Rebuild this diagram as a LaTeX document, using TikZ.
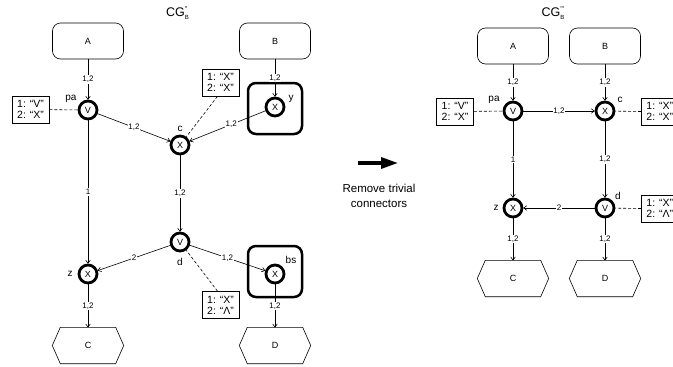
\documentclass[tikz,border=0pt]{standalone}
\usepackage{fontspec}
\setmainfont{Liberation Sans}
\newfontfamily\tickfont{Liberation Sans}
\usetikzlibrary{arrows.meta,calc}

\tikzset{
  box/.style={draw, line width=0.6pt, rounded corners=8pt, minimum width=71pt,
    minimum height=36pt, inner sep=0pt, font=\fontsize{9}{9}\selectfont},
  hexbox/.style={minimum width=71pt, minimum height=36pt, inner sep=0pt,
    font=\fontsize{9}{9}\selectfont},
  op/.style={circle, draw, line width=2.8pt, minimum size=18pt, inner sep=0pt,
    font=\fontsize{9}{9}\selectfont},
  frame/.style={draw, line width=2.5pt, rounded corners=8pt, minimum width=54pt,
    minimum height=51pt},
  note/.style={draw, line width=0.6pt, align=left, fill=white,
    font=\fontsize{10.5}{11}\selectfont, minimum width=37pt, minimum height=27pt,
    inner xsep=4pt, inner ysep=2pt},
  conn/.style={line width=0.6pt, -{To[length=3.5pt,width=5pt]}},
  lab/.style={fill=white, inner sep=0.8pt, font=\fontsize{8}{8}\selectfont},
  dline/.style={line width=0.6pt, dash pattern=on 3pt off 2pt},
  tag/.style={inner sep=0pt, font=\fontsize{10}{10}\selectfont},
  title/.style={inner sep=0pt, font=\fontsize{12.5}{12.5}\selectfont},
}

% graph name: CG with primes above and B below
\newcommand{\cgname}[1]{CG\rlap{\raisebox{5.5pt}{\fontsize{7}{7}\selectfont\tickfont #1}}\raisebox{-3pt}{\fontsize{6}{6}\selectfont B}}

% hexagonal terminal drawn round an invisible node
\newcommand{\hexframe}[1]{%
  \draw[line width=0.6pt] (#1.west) -- ([xshift=8pt]#1.north west)
    -- ([xshift=-8pt]#1.north east) -- (#1.east)
    -- ([xshift=-8pt]#1.south east) -- ([xshift=8pt]#1.south west) -- cycle;}

\begin{document}
\begin{tikzpicture}[x=1pt, y=-1pt]
\useasboundingbox (0,0) rectangle (673,367);

% ---------------- first graph ----------------
\node[title] (t1) at (177.5,13) {\cgname{''}};

\node[box] (A1) at (88,41) {A};
\node[box] (B1) at (275,41) {B};

\node[frame] (yf) at (275,108.5) {};
\node[frame] (bsf) at (275,271.5) {};

\node[op] (pa1) at (88,110) {V};
\node[op] (c1) at (180,145) {X};
\node[op] (y1) at (275,107) {X};
\node[op] (d1) at (180,242) {V};
\node[op] (z1) at (88,274) {X};
\node[op] (bs1) at (275,274) {X};

\node[hexbox] (C1) at (88,345.5) {C};
\node[hexbox] (D1) at (275,345.5) {D};
\hexframe{C1}
\hexframe{D1}

\node[tag] (lpa1) at (71,99) {pa};
\node[tag] (lc1) at (180,129) {c};
\node[tag] (ly1) at (291,99) {y};
\node[tag] (ld1) at (180,262) {d};
\node[tag] (lz1) at (70,274) {z};
\node[tag] (lbs1) at (291,260) {bs};

\node[note] (npa1) at (30.5,109.5) {1: “V”\\2: “X”};
\node[note] (nc1) at (220.5,82.5) {1: “X”\\2: “X”};
\node[note] (nd1) at (220.5,305) {1: “X”\\2: “Λ”};

\draw[dline] (npa1) -- (pa1);
\draw[dline] ([xshift=-3pt]nc1.south) -- (c1);
\draw[dline] ([xshift=-3pt]nd1.north) -- (d1);

\draw[conn] (A1) -- node[lab] {1,2} (pa1);
\draw[conn] (B1) -- node[lab] {1,2} (y1);
\draw[conn] (pa1) -- node[lab] {1,2} (c1);
\draw[conn] (y1) -- node[lab, pos=0.45] {1,2} (c1);
\draw[conn] (pa1) -- node[lab] {1} (z1);
\draw[conn] (c1) -- node[lab] {1,2} (d1);
\draw[conn] (d1) -- node[lab] {2} (z1);
\draw[conn] (d1) -- node[lab] {1,2} (bs1);
\draw[conn] (z1) -- node[lab] {1,2} (C1);
\draw[conn] (bs1) -- node[lab] {1,2} (D1);

% ---------------- transformation step ----------------
\coordinate (arS) at (358,163);
\coordinate (arE) at (398,163);
\draw[line width=3.2pt, -{Triangle[length=17pt,width=11pt]}] (arS) -- (arE);
\node[align=center, inner sep=0pt, font=\fontsize{11.5}{15}\selectfont] (step1) at (379,195.5)
  {Remove trivial\\connectors};

% ---------------- second graph ----------------
\node[title] (t2) at (553,13) {\cgname{'''}};

\node[box] (A2) at (513,46) {A};
\node[box] (B2) at (605,46) {B};

\node[op] (pa2) at (513,111) {V};
\node[op] (c2) at (605,111) {X};
\node[op] (z2) at (513,208) {X};
\node[op] (d2) at (605,208) {V};

\node[hexbox] (C2) at (513,278.5) {C};
\node[hexbox] (D2) at (605,278.5) {D};
\hexframe{C2}
\hexframe{D2}

\node[tag] (lpa2) at (494,100) {pa};
\node[tag] (lc2) at (620,100) {c};
\node[tag] (lz2) at (496,208) {z};
\node[tag] (ld2) at (618,196) {d};

\node[note] (npa2) at (455,111.5) {1: “V”\\2: “X”};
\node[note, anchor=west] (nc2) at (641,111.5) {1: “X”\\2: “X”};
\node[note, anchor=west] (nd2) at (641,208.5) {1: “X”\\2: “Λ”};

\draw[dline] (npa2) -- (pa2);
\draw[dline] (nc2.west) -- (c2);
\draw[dline] (nd2.west) -- (d2);

\draw[conn] (A2) -- node[lab] {1,2} (pa2);
\draw[conn] (B2) -- node[lab] {1,2} (c2);
\draw[conn] (pa2) -- node[lab] {1,2} (c2);
\draw[conn] (pa2) -- node[lab] {1} (z2);
\draw[conn] (c2) -- node[lab] {1,2} (d2);
\draw[conn] (d2) -- node[lab] {2} (z2);
\draw[conn] (z2) -- node[lab] {1,2} (C2);
\draw[conn] (d2) -- node[lab] {1,2} (D2);
\end{tikzpicture}
\end{document}
